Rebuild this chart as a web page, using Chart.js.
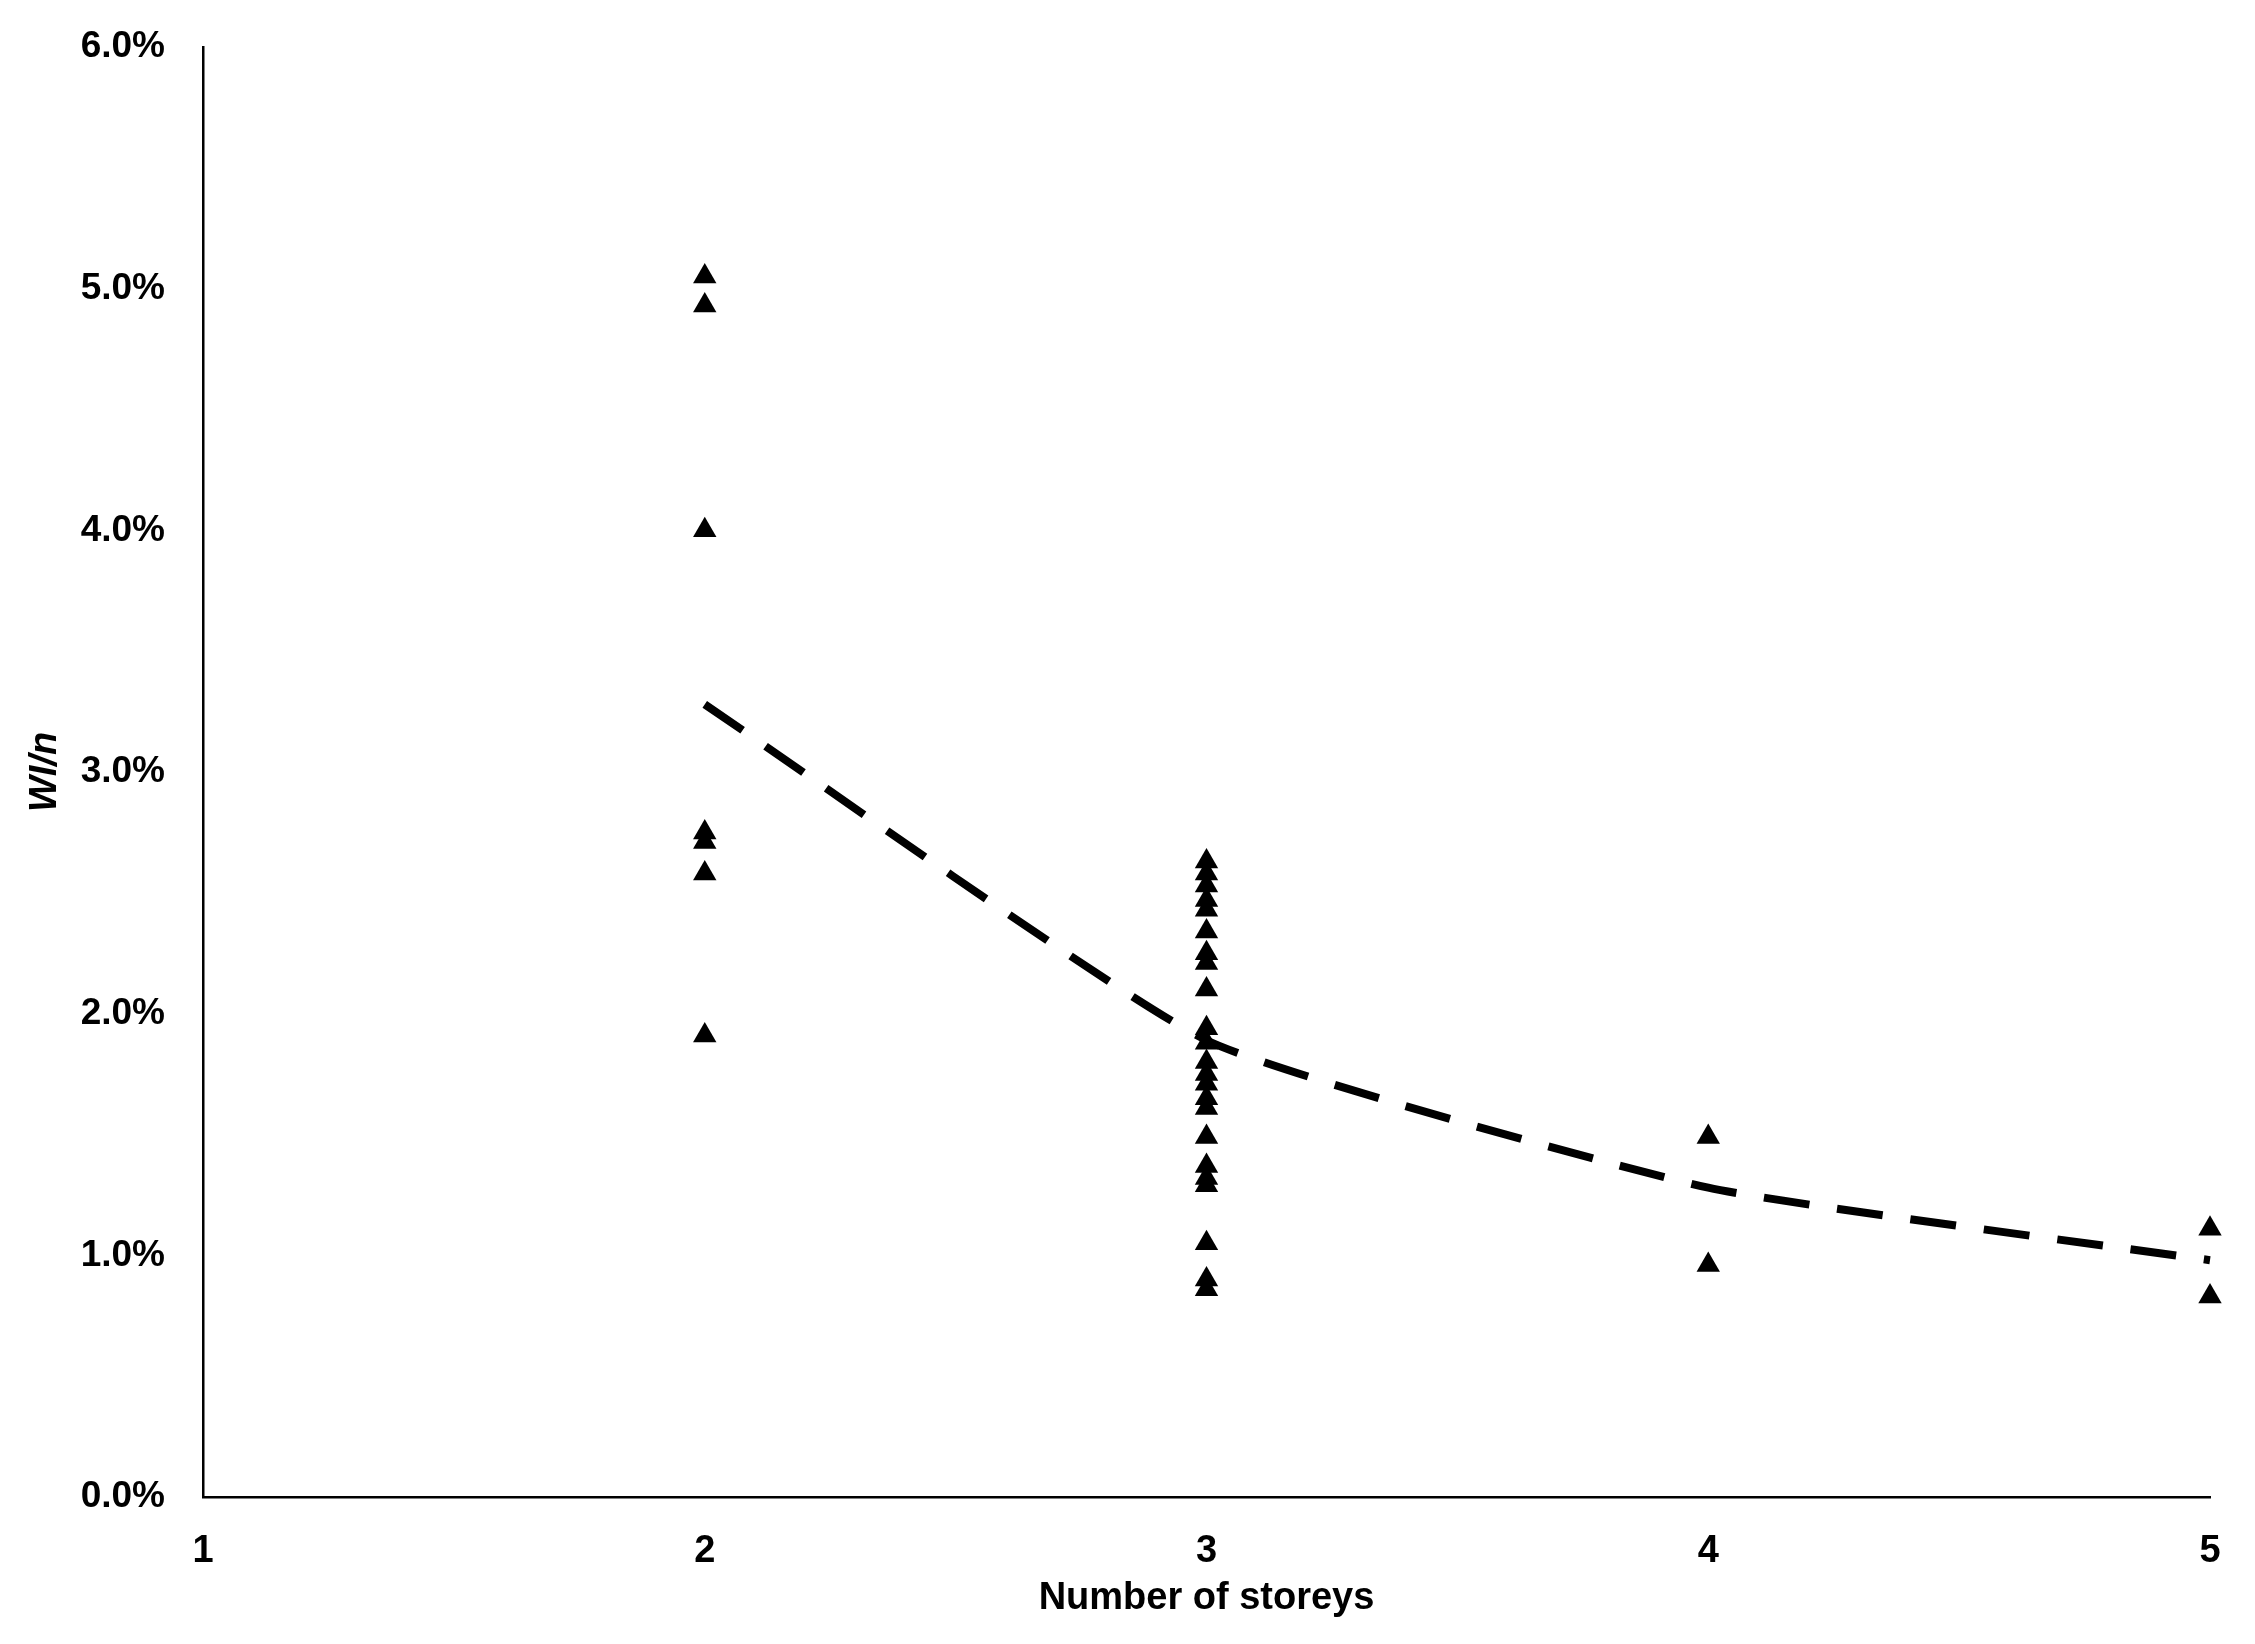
<!DOCTYPE html>
<html>
<head>
<meta charset="utf-8">
<title>WI/n vs number of storeys</title>
<script src="https://cdn.jsdelivr.net/npm/chart.js@4.4.0/dist/chart.umd.min.js"></script>
<style>
  html, body { margin: 0; padding: 0; background: #fff; }
  #wrap { width: 2255px; height: 1644px; }
</style>
</head>
<body>
<div id="wrap"><canvas id="storeys" width="2255" height="1644"></canvas></div>
<script>
// values (WI/n in %)
const storeys = [2, 3, 4, 5];
const twoStorey = [5.05, 4.93, 4.00, 2.75, 2.71, 2.58, 1.91];
const threeStorey = [2.63, 2.58, 2.53, 2.47, 2.43, 2.34, 2.25, 2.21, 2.10, 1.94, 1.88, 1.80,
  1.75, 1.71, 1.65, 1.61, 1.49, 1.37, 1.32, 1.29, 1.05, 0.90, 0.86];
const fourStorey = [1.49, 0.96];
const fiveStorey = [1.11, 0.83];
const trend = [3.28, 1.89, 1.28, 0.98];
const xTicks = [1, 2, 3, 4, 5];
const yTicks = [0, 1, 2, 3, 4, 5, 6];

const groups = [twoStorey, threeStorey, fourStorey, fiveStorey];
const points = [];
groups.forEach((vals, i) => {
  vals.forEach(v => points.push({ x: storeys[i], y: v }));
});

const font = 'Liberation Sans, Arial, sans-serif';

const ctx = document.querySelector('#storeys');
new Chart(ctx, {
  type: 'scatter',
  data: {
    datasets: [
      {
        label: 'WI/n',
        data: points,
        pointStyle: 'triangle',
        pointRadius: 13.5,
        pointBackgroundColor: '#000',
        pointBorderColor: '#000',
        pointBorderWidth: 0,
        showLine: false,
        clip: false,
        order: 2
      },
      {
        label: 'Trend',
        type: 'line',
        data: storeys.map((s, i) => ({ x: s, y: trend[i] })),
        borderColor: '#000',
        borderWidth: 8,
        borderDash: [46, 28],
        borderCapStyle: 'butt',
        tension: 0.15,
        pointRadius: 0,
        fill: false,
        clip: false,
        order: 1
      }
    ]
  },
  options: {
    responsive: false,
    animation: false,
    layout: { padding: { top: 47, right: 45, left: 0, bottom: 0 } },
    plugins: {
      legend: { display: false },
      tooltip: { enabled: false }
    },
    scales: {
      x: {
        type: 'linear',
        min: 1,
        max: 5,
        afterBuildTicks: scale => { scale.ticks = xTicks.map(v => ({ value: v })); },
        afterFit: scale => { scale.height = 147; },
        grid: { display: false, drawTicks: false },
        border: { display: true, color: '#000', width: 2.5 },
        ticks: {
          padding: 32,
          color: '#000',
          font: { family: font, size: 38, weight: 'bold' }
        },
        title: {
          display: true,
          text: 'Number of storeys',
          color: '#000',
          padding: { top: 0, bottom: 23 },
          font: { family: font, size: 38, weight: 'bold' }
        }
      },
      y: {
        min: 0,
        max: 6,
        afterBuildTicks: scale => { scale.ticks = yTicks.map(v => ({ value: v })); },
        afterFit: scale => {
          // fixed axis box so the plot area lines up with the original
          scale.width = 203;
          scale.paddingTop = 0;
          scale.paddingBottom = 0;
        },
        grid: { display: false, drawTicks: false },
        border: { display: true, color: '#000', width: 2.5 },
        ticks: {
          padding: 38,
          color: '#000',
          font: { family: font, size: 37, weight: 'bold' },
          callback: v => v.toFixed(1) + '%'
        },
        title: {
          display: true,
          text: 'WI/n',
          color: '#000',
          padding: { top: 23, bottom: 0 },
          font: { family: font, size: 38, weight: 'bold', style: 'italic' }
        }
      }
    }
  }
});
</script>
</body>
</html>
